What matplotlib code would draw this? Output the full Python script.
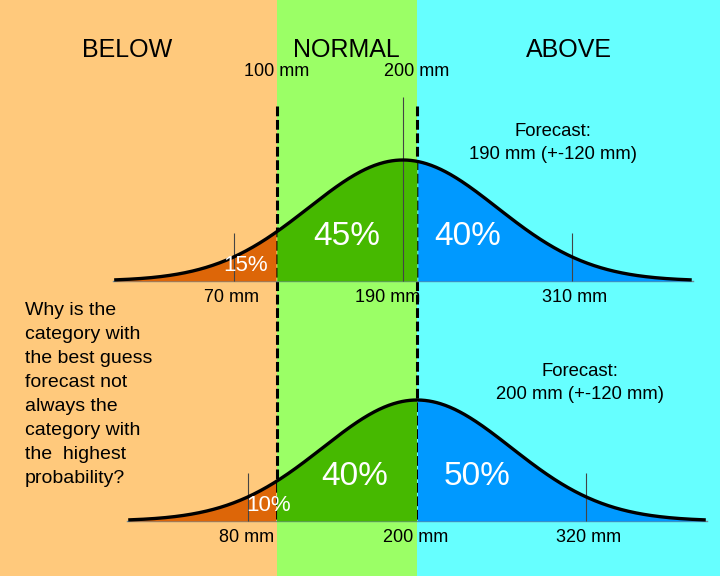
import matplotlib.pyplot as plt
import numpy as np

plt.rcParams['font.family'] = ['Liberation Sans', 'DejaVu Sans']

# category bounds (mm) and headers
bounds = [100, 200]
headers = ['BELOW', 'NORMAL', 'ABOVE']
header_x = [-6, 150, 308]
bound_labels = ['100 mm', '200 mm']

# the two forecasts
means = [190, 200]
spread = 120
sd = 67
percents = [['15%', '45%', '40%'], ['10%', '40%', '50%']]
pct_x = [[78, 150, 236], [94, 156, 243]]
pct_size = [16, 24, 24]
tick_labels = [['70 mm', '190 mm', '310 mm'], ['80 mm', '200 mm', '320 mm']]
tick_label_x = [[68, 179, 312], [79, 199, 322]]
forecast_x = [297, 316]
question = ('Why is the\ncategory with\nthe best guess\nforecast not\n'
            'always the\ncategory with\nthe  highest\nprobability?')

bg_colors = ['#FFC97C', '#9BFF66', '#66FFFF']
fill_colors = ['#DD6608', '#46B900', '#0099FF']

W, H = 720, 576
PX_MM = 1.405
X0 = 136
xlim = (-X0 / PX_MM, (W - X0) / PX_MM)
PEAK = 121
base_px = [281, 521]

fig = plt.figure(figsize=(7.2, 5.76), dpi=100)

# background bands, headers, dashed category lines
bg = fig.add_axes([0, 0, 1, 1])
bg.set_xlim(xlim)
bg.set_ylim(H, 0)
bg.axis('off')
edges = [xlim[0]] + bounds + [xlim[1]]
for i in range(3):
    bg.axvspan(edges[i], edges[i + 1], color=bg_colors[i], lw=0)
    bg.text(header_x[i], 50, headers[i], fontsize=18, ha='center', va='center')
for b, lab in zip(bounds, bound_labels):
    bg.text(b, 72, lab, fontsize=13, ha='center', va='center')
    bg.vlines(b, 106, 521, colors='black', lw=2.2, linestyles=(0, (3.2, 1.2)), zorder=5)
bg.text(-79, 302, question, fontsize=14, ha='left', va='top', linespacing=1.54)

for k in range(2):
    ax = fig.add_axes([0, 0, 1, 1])
    ax.patch.set_alpha(0)
    ax.axis('off')
    ax.set_xlim(xlim)
    ax.set_ylim((base_px[k] - H) / PEAK, base_px[k] / PEAK)
    m = means[k]
    x = np.linspace(m - 3.05 * sd, m + 3.05 * sd, 600)
    y = np.exp(-0.5 * ((x - m) / sd) ** 2)
    ax.plot([x[0] - 2, x[-1] + 2], [0, 0], color='#6f8a99', lw=1, zorder=1)
    regions = [x <= bounds[0], (x >= bounds[0]) & (x <= bounds[1]), x >= bounds[1]]
    for r, c in zip(regions, fill_colors):
        ax.fill_between(x[r], 0, y[r], color=c, lw=0, zorder=2)
    # mean and +-spread marker lines
    ax.vlines([m - spread, m + spread], 0, 0.40, colors='#444444', lw=0.8, zorder=3)
    if k == 0:
        ax.vlines(m, 0, 1.52, colors='#444444', lw=0.8, zorder=3)
    ax.plot(x, y, color='black', lw=2.4, zorder=4)
    for t, px_, s in zip(percents[k], pct_x[k], pct_size):
        ax.text(px_, 0.124 if s < 20 else 0.37, t, color='white', fontsize=s,
                ha='center', va='center', zorder=6)
    for lx, lab in zip(tick_label_x[k], tick_labels[k]):
        ax.text(lx, -0.14, lab, fontsize=13, ha='center', va='center', zorder=6)
    ax.text(forecast_x[k], 1.14, 'Forecast:\n%d mm (+-%d mm)' % (m, spread),
            fontsize=13.3, ha='center', va='center', linespacing=1.4, zorder=6)

fig.savefig('out.png', dpi=100)
